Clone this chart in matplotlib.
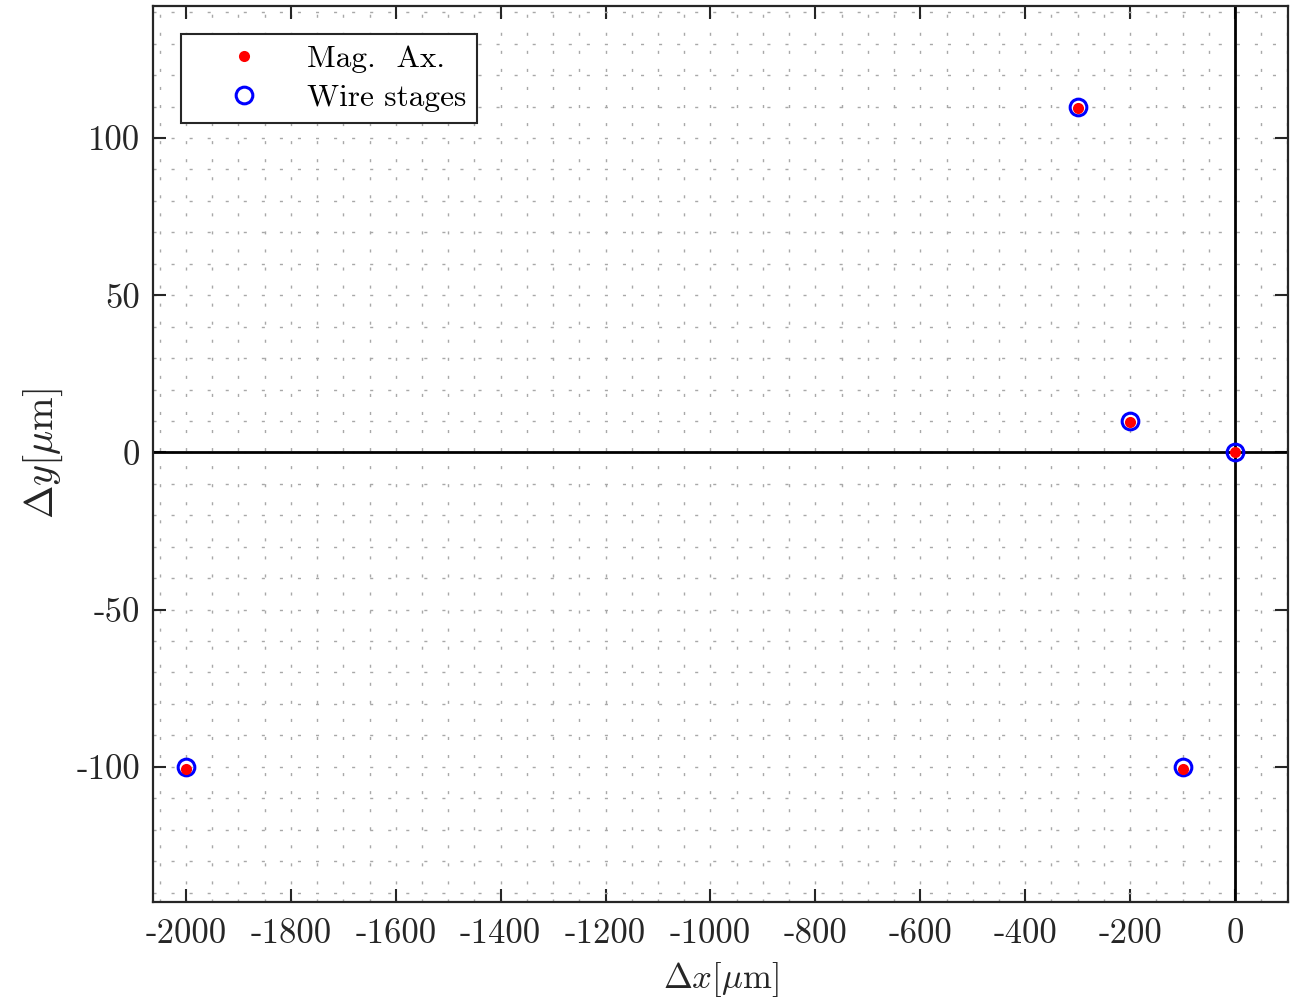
import matplotlib
matplotlib.use("Agg")
import matplotlib.pyplot as plt
from matplotlib.ticker import MultipleLocator, FixedLocator

# Data
stage_x = [0, -200, -300, -100, -2000]
stage_y = [0, 10, 110, -100, -100]
mag_x = [0, -200, -300, -100, -2000]
mag_y = [0, 9.8, 109.6, -100.7, -100.8]
x_ticks = [-2000, -1800, -1600, -1400, -1200, -1000, -800, -600, -400, -200, 0]
y_ticks = [-100, -50, 0, 50, 100]
legend_labels = ["Mag.  Ax.", "Wire stages"]

plt.rcParams['font.family'] = ['cmr10', 'DejaVu Serif']
plt.rcParams['mathtext.fontset'] = 'cm'
plt.rcParams['axes.unicode_minus'] = False
plt.rcParams['axes.formatter.use_mathtext'] = False

fig = plt.figure(figsize=(12.96, 9.98), dpi=100)
ax = fig.add_axes([0.118, 0.0962, 0.8758, 0.8978])

spine_col = '#262626'
ax.axhline(0, color='black', lw=2.0, zorder=2)
ax.axvline(0, color='black', lw=2.0, zorder=2)

ax.plot(mag_x, mag_y, 'o', linestyle='none', color='red', ms=8, mec='red', mew=0,
        label=legend_labels[0], zorder=4)
ax.plot(stage_x, stage_y, 'o', linestyle='none', mfc='none', mec='blue', ms=12,
        mew=2.2, label=legend_labels[1], zorder=3)

ax.set_xlim(-2063, 101)
ax.set_ylim(-143, 142)
ax.xaxis.set_major_locator(FixedLocator(x_ticks))
ax.yaxis.set_major_locator(FixedLocator(y_ticks))
ax.xaxis.set_minor_locator(MultipleLocator(50))
ax.yaxis.set_minor_locator(MultipleLocator(10))

ax.grid(which='both', color='#a8a8a8', lw=1.0, linestyle=(0, (2.2, 10.8)), zorder=0)

ax.tick_params(which='major', direction='in', length=9.5, width=1.5, color=spine_col,
               top=True, right=True, labelsize=25, labelcolor='#262626')
ax.tick_params(axis='x', which='major', pad=12)
ax.tick_params(axis='y', which='major', pad=9)
ax.tick_params(which='minor', length=0, top=True, right=True)
for s in ax.spines.values():
    s.set_linewidth(1.6)
    s.set_color(spine_col)

ax.set_xlabel(r'$\Delta x[\mu$m$]$', fontsize=25, labelpad=7, color='#262626')
ax.set_ylabel(r'$\Delta y[\mu$m$]$', fontsize=29, labelpad=8.5, color='#262626')

leg = ax.legend(loc='upper left', fontsize=22.5, frameon=True, fancybox=False,
                edgecolor='#262626', framealpha=1, borderpad=0.35,
                handletextpad=0.33, handlelength=3.35, labelspacing=0.35,
                borderaxespad=0, bbox_to_anchor=(0.0247, 0.9688))
leg.get_frame().set_linewidth(1.5)

fig.savefig('out.png', dpi=100)
